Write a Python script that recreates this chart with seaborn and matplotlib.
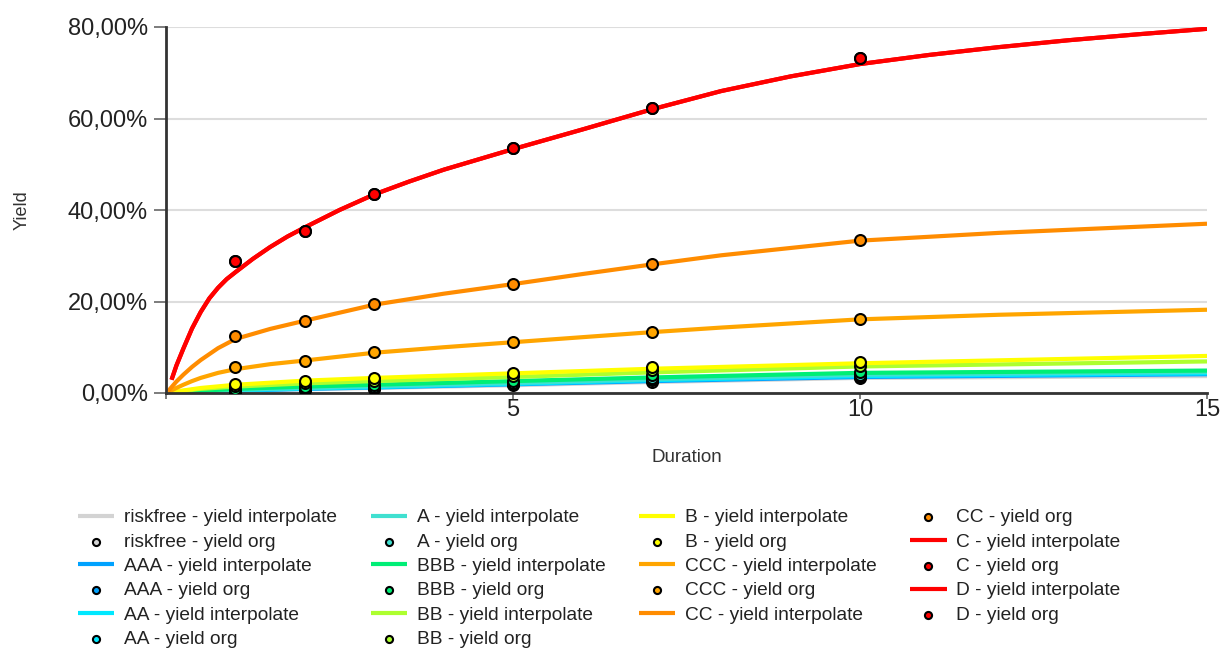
import numpy as np
import pandas as pd
import matplotlib
matplotlib.use("Agg")
import matplotlib.pyplot as plt
import seaborn as sns
from matplotlib.ticker import FuncFormatter

# ---------------- data ----------------
ratings = ["riskfree", "AAA", "AA", "A", "BBB", "BB", "B", "CCC", "CC", "C", "D"]
colors = ["#d3d3d3", "#00a2ff", "#00e8ff", "#40e0d0", "#00ee76", "#adff2f",
          "#ffff00", "#ffa500", "#ff8c00", "#ff0000", "#ff0000"]

# observed yields (%), durations in years
org_durations = [1, 2, 3, 5, 7, 10]
org_riskfree = [0.3, 0.7, 0.9, 1.7, 2.5, 3.3]
org_AAA = [0.4, 0.8, 1.0, 1.9, 2.8, 3.5]
org_AA = [0.5, 0.9, 1.2, 2.0, 3.0, 3.7]
org_A = [0.6, 1.1, 1.4, 2.2, 3.3, 4.0]
org_BBB = [0.9, 1.4, 1.7, 2.6, 3.9, 4.5]
org_BB = [1.5, 2.2, 2.7, 3.7, 5.0, 5.9]
org_B = [1.9, 2.7, 3.2, 4.4, 5.7, 6.8]
org_CCC = [5.6, 7.1, 8.9, 11.1, 13.3, 16.2]
org_CC = [12.5, 15.7, 19.4, 23.8, 28.1, 33.5]
org_C = [28.9, 35.5, 43.5, 53.5, 62.3, 73.3]
org_D = [28.9, 35.5, 43.5, 53.5, 62.3, 73.3]

# interpolated curves (%)
dur_low = [0.05, 0.5, 1, 2, 3, 5, 7, 10, 15]
int_riskfree = [0.03, 0.25, 0.4, 0.8, 1.1, 1.7, 2.4, 3.3, 3.7]
int_AAA = [0.04, 0.3, 0.5, 0.9, 1.2, 1.9, 2.6, 3.5, 4.1]
int_AA = [0.04, 0.35, 0.6, 1.0, 1.3, 2.0, 2.8, 3.7, 4.3]
int_A = [0.05, 0.4, 0.7, 1.1, 1.5, 2.2, 3.0, 4.0, 4.6]
int_BBB = [0.06, 0.5, 0.9, 1.4, 1.8, 2.6, 3.4, 4.4, 4.9]
int_BB = [0.1, 0.9, 1.4, 2.1, 2.6, 3.5, 4.5, 5.8, 6.9]
int_B = [0.12, 1.1, 1.8, 2.7, 3.3, 4.3, 5.3, 6.5, 8.1]

dur_mid = [0.03, 0.15, 0.25, 0.375, 0.5, 0.75, 1, 1.5, 2, 3, 4, 5, 6, 7, 8, 10, 12, 15]
int_CCC = [0.2, 1.1, 1.8, 2.6, 3.3, 4.4, 5.2, 6.3, 7.1, 8.8, 10.0, 11.1, 12.2, 13.3,
           14.3, 16.1, 17.1, 18.2]
int_CC = [0.4, 2.5, 4.0, 5.7, 7.2, 9.8, 11.8, 14.0, 15.8, 19.3, 21.7, 23.8, 26.0, 28.1,
          30.1, 33.3, 35.0, 37.0]

dur_high = [0.08, 0.15, 0.25, 0.375, 0.5, 0.625, 0.75, 0.875, 1, 1.25, 1.5, 1.75, 2, 2.5,
            3, 3.5, 4, 5, 6, 7, 8, 9, 10, 11, 12, 13, 14, 15]
int_C = [2.9, 6.0, 9.7, 14.1, 17.7, 20.7, 23.0, 24.9, 26.4, 29.3, 31.9, 34.2, 36.2, 40.0,
         43.4, 46.2, 48.8, 53.3, 57.6, 62.0, 66.0, 69.2, 71.9, 73.9, 75.6, 77.1, 78.4, 79.6]
int_D = [2.9, 6.0, 9.7, 14.1, 17.7, 20.7, 23.0, 24.9, 26.4, 29.3, 31.9, 34.2, 36.2, 40.0,
         43.4, 46.2, 48.8, 53.3, 57.6, 62.0, 66.0, 69.2, 71.9, 73.9, 75.6, 77.1, 78.4, 79.6]

org_values = [org_riskfree, org_AAA, org_AA, org_A, org_BBB, org_BB, org_B,
              org_CCC, org_CC, org_C, org_D]
int_values = [int_riskfree, int_AAA, int_AA, int_A, int_BBB, int_BB, int_B,
              int_CCC, int_CC, int_C, int_D]
int_durs = [dur_low] * 7 + [dur_mid] * 2 + [dur_high] * 2

x_ticks = [0, 5, 10, 15]
x_ticklabels = ["", "5", "10", "15"]
y_ticks = [0, 20, 40, 60, 80]

# ---------------- style ----------------
sns.set_theme(style="white")
plt.rcParams["font.family"] = ["Liberation Sans", "DejaVu Sans"]

fig = plt.figure(figsize=(12.28, 6.48), dpi=100)
ax = fig.add_axes([166 / 1228, 1 - 393 / 648, (1207 - 166) / 1228, (393 - 27) / 648])

for name, col, xs, ys in zip(ratings, colors, int_durs, int_values):
    df = pd.DataFrame({"Duration": xs, "Yield": ys})
    sns.lineplot(data=df, x="Duration", y="Yield", color=col, linewidth=3.0,
                 ax=ax, errorbar=None, label=f"{name} - yield interpolate",
                 solid_capstyle="butt", solid_joinstyle="round")

for name, col, ys in zip(ratings, colors, org_values):
    df = pd.DataFrame({"Duration": org_durations, "Yield": ys})
    sns.scatterplot(data=df, x="Duration", y="Yield", color=col, s=62,
                    edgecolor="black", linewidth=1.5, ax=ax, zorder=5,
                    label=f"{name} - yield org")

handles, labels = ax.get_legend_handles_labels()
hmap = dict(zip(labels, handles))
if ax.get_legend() is not None:
    ax.get_legend().remove()

order_h, order_l = [], []
for name in ratings:
    for suffix in ["yield interpolate", "yield org"]:
        lab = f"{name} - {suffix}"
        order_h.append(hmap[lab])
        order_l.append(lab)

ax.set_xlim(0, 15)
ax.set_ylim(0, 80)
ax.set_xticks(x_ticks)
ax.set_xticklabels(x_ticklabels)
ax.set_yticks(y_ticks)
ax.yaxis.set_major_formatter(FuncFormatter(lambda v, p: f"{v:.2f}%".replace(".", ",")))

ax.grid(axis="y", color="#dddddd", linewidth=1.5)
ax.grid(axis="x", visible=False)
ax.set_axisbelow(True)
for s in ["top", "right"]:
    ax.spines[s].set_visible(False)
for s in ["left", "bottom"]:
    ax.spines[s].set_color("#333333")
    ax.spines[s].set_linewidth(2)

ax.tick_params(axis="y", which="major", left=True, length=8.5, width=1.2,
               color="#666666", labelsize=17, labelcolor="#222222", pad=4.5)
ax.tick_params(axis="x", which="major", bottom=True, length=4, width=1.2,
               color="#666666", labelsize=17, labelcolor="#222222", pad=0)

ax.set_xlabel("Duration", fontsize=13.5, color="#333333")
ax.set_ylabel("Yield", fontsize=13, color="#333333")
ax.xaxis.set_label_coords(0.5, -0.153)
ax.yaxis.set_label_coords(-0.13, 0.5)

fig.legend(order_h, order_l, ncol=4, loc="upper left",
           bbox_to_anchor=(78 / 1228, 1 - 509 / 648), frameon=False,
           fontsize=13.8, handlelength=1.9, handletextpad=0.5,
           columnspacing=1.75, labelspacing=0.36, borderpad=0,
           borderaxespad=0, markerscale=0.65, labelcolor="#222222")

fig.savefig("out.png", dpi=100, facecolor="white")
